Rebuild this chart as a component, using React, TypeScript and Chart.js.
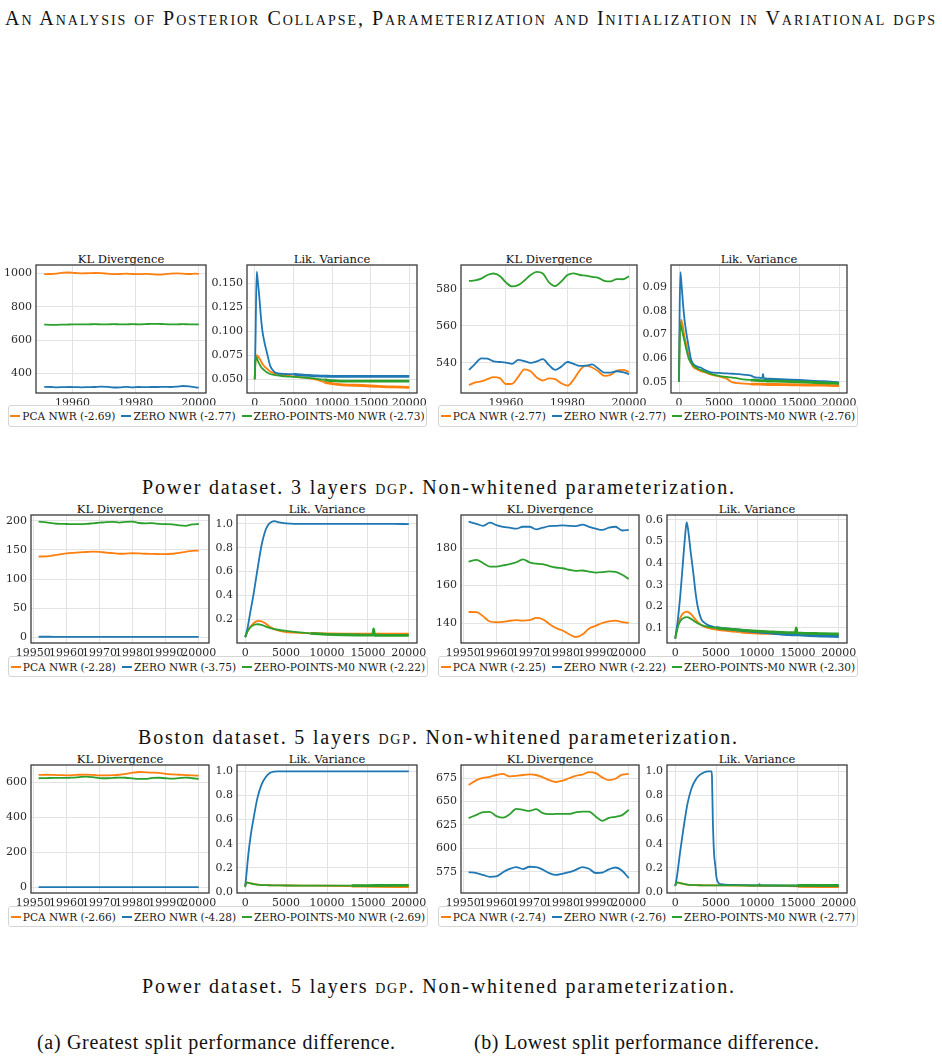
import React, { useEffect, useLayoutEffect, useRef } from "react";
import { Chart, registerables } from "chart.js";

Chart.register(...registerables);

// ---------- legend entries ----------
const seriesNames = ["PCA NWR", "ZERO NWR", "ZERO-POINTS-M0 NWR"];
const seriesColors = ["#ff7f0e", "#1f77b4", "#2ca02c"];

// ---------- shared steps / ticks ----------
const lvTicksX = [0, 5000, 10000, 15000, 20000];
const klTicksX20 = [19960, 19980, 20000];
const klTicksX10 = [19950, 19960, 19970, 19980, 19990, 20000];
const klSteps = [19951.6, 19954, 19956, 19958, 19960, 19962, 19964, 19966, 19968, 19970, 19972, 19974, 19976, 19978, 19980, 19982, 19984, 19986, 19988, 19990, 19992, 19994, 19996, 19998, 20000];

// ---------- Power, 3 layers, greatest split difference ----------
const scoresA = ["-2.69", "-2.77", "-2.73"];
const klStepsA = [19951, 19953, 19955, 19957, 19959, 19961, 19963, 19965, 19967, 19969, 19971, 19973, 19975, 19977, 19979, 19981, 19983, 19985, 19987, 19989, 19991, 19993, 19995, 19997, 19999, 20000];
const klPcaA = [995, 996, 999, 1004, 1005, 1002, 1000, 1001, 1002, 1001, 998, 995, 996, 998, 996, 995, 997, 996, 992, 994, 999, 1000, 998, 996, 998, 997];
const klZeroA = [321, 320, 318, 319, 320, 319, 318, 319, 320, 322, 321, 317, 318, 321, 318, 320, 319, 320, 320, 321, 320, 322, 326, 324, 318, 316];
const klZpA = [693, 692, 692, 693, 694, 695, 695, 695, 696, 695, 695, 696, 695, 695, 696, 695, 696, 698, 698, 696, 695, 695, 696, 695, 695, 694];
const lvStepsA = [0, 100, 250, 400, 600, 800, 1000, 1300, 1600, 2000, 2500, 3000, 4000, 5000, 6000, 7000, 8000, 9000, 10000, 11000, 12000, 14000, 16000, 18000, 20000];
const lvPcaA = [0.05, 0.068, 0.075, 0.074, 0.072, 0.069, 0.066, 0.063, 0.061, 0.058, 0.0565, 0.0555, 0.054, 0.053, 0.052, 0.051, 0.0495, 0.047, 0.0455, 0.0445, 0.044, 0.0435, 0.0425, 0.042, 0.0415];
const lvZeroA = [0.05, 0.09, 0.162, 0.152, 0.135, 0.115, 0.1, 0.087, 0.077, 0.064, 0.058, 0.056, 0.0555, 0.0553, 0.0545, 0.054, 0.0535, 0.0533, 0.053, 0.053, 0.053, 0.053, 0.053, 0.053, 0.053];
const lvZpA = [0.05, 0.07, 0.073, 0.069, 0.066, 0.063, 0.061, 0.059, 0.057, 0.0555, 0.0545, 0.054, 0.053, 0.0525, 0.052, 0.0515, 0.0505, 0.0495, 0.0485, 0.048, 0.048, 0.048, 0.048, 0.048, 0.048];

// ---------- Power, 3 layers, lowest split difference ----------
const scoresB = ["-2.77", "-2.77", "-2.76"];
const klStepsB = [19948, 19950, 19952, 19954, 19956, 19958, 19960, 19962, 19964, 19966, 19968, 19970, 19972, 19974, 19976, 19978, 19980, 19982, 19984, 19986, 19988, 19990, 19992, 19994, 19996, 19998, 20000];
const klPcaB = [528, 529.5, 530, 531.2, 532.3, 531.8, 528.6, 528.7, 532.5, 536.5, 535.5, 532.2, 530.5, 531.6, 531.2, 529, 527.7, 531, 536, 538.5, 537.5, 535.5, 533, 533.5, 535.8, 536.2, 535.2];
const klZeroB = [536.2, 539.5, 542.5, 542.3, 540.8, 540.5, 540.2, 539.5, 541.6, 541, 540, 540.8, 542, 538.8, 536.2, 538, 540.5, 539.5, 538.4, 538.5, 539.2, 537, 534.8, 534.8, 535.5, 535, 534];
const klZpB = [584.3, 584.6, 585.5, 587.5, 588.3, 587, 583.5, 581.3, 582, 584.5, 587.5, 589.2, 588.3, 583.5, 581.5, 584, 587.5, 588.4, 587.5, 587.2, 586.5, 586, 584.3, 584, 585.3, 585.2, 586.8];
const lvStepsB = [0, 80, 170, 300, 500, 700, 900, 1200, 1500, 1800, 2200, 2700, 3200, 4000, 5000, 6000, 6500, 7000, 8000, 9000, 9500, 10000, 10400, 10500, 10600, 11000, 12000, 14000, 16000, 18000, 20000];
const lvPcaB = [0.05, 0.07, 0.074, 0.0762, 0.073, 0.069, 0.066, 0.061, 0.058, 0.0562, 0.0553, 0.0545, 0.054, 0.053, 0.0522, 0.0512, 0.05, 0.0495, 0.0492, 0.049, 0.049, 0.049, 0.0489, 0.0489, 0.0489, 0.0488, 0.0488, 0.0487, 0.0486, 0.0485, 0.0483];
const lvZeroB = [0.05, 0.08, 0.0965, 0.092, 0.083, 0.076, 0.071, 0.065, 0.0595, 0.0575, 0.0565, 0.056, 0.055, 0.054, 0.0537, 0.0535, 0.0534, 0.0533, 0.053, 0.0526, 0.0518, 0.0517, 0.0515, 0.0533, 0.0514, 0.0511, 0.051, 0.0507, 0.0503, 0.05, 0.0495];
const lvZpB = [0.05, 0.066, 0.0747, 0.073, 0.07, 0.067, 0.064, 0.06, 0.058, 0.0568, 0.0558, 0.055, 0.0543, 0.0533, 0.0525, 0.052, 0.0518, 0.0516, 0.051, 0.0507, 0.0506, 0.0505, 0.0504, 0.0504, 0.0504, 0.0503, 0.0502, 0.05, 0.0498, 0.0495, 0.0493];

// ---------- Boston, 5 layers, greatest split difference ----------
const scoresC = ["-2.28", "-3.75", "-2.22"];
const klPcaC = [138.7, 139, 140.5, 142.5, 144, 145, 145.8, 146.5, 147.3, 146.8, 145.5, 144.5, 143.5, 143.8, 144.4, 144, 143.5, 143.3, 143, 142.7, 143.5, 145.2, 146.8, 148.5, 148.8];
const klZeroC = [0.5, 0.5, 0.4, 0.4, 0.4, 0.4, 0.4, 0.4, 0.4, 0.4, 0.4, 0.4, 0.4, 0.4, 0.4, 0.4, 0.4, 0.4, 0.4, 0.4, 0.4, 0.4, 0.4, 0.4, 0.4];
const klZpC = [198.9, 197.5, 196, 195, 194.8, 194.5, 194.5, 195, 196, 197, 198, 198.5, 197.2, 198.5, 198.8, 196.5, 196, 196.3, 195, 194.5, 194.3, 192.5, 191.5, 194, 194.8];
const lvStepsC = [0, 300, 600, 1000, 1300, 1600, 2000, 2400, 2800, 3200, 3600, 4000, 5000, 6000, 7000, 8000, 10000, 12000, 14000, 15600, 15700, 15800, 16000, 18000, 20000];
const lvPcaC = [0.05, 0.1, 0.135, 0.165, 0.18, 0.187, 0.183, 0.168, 0.148, 0.13, 0.115, 0.106, 0.093, 0.088, 0.085, 0.082, 0.078, 0.076, 0.075, 0.075, 0.075, 0.075, 0.075, 0.075, 0.075];
const lvZeroC = [0.05, 0.13, 0.25, 0.4, 0.53, 0.66, 0.82, 0.93, 0.99, 1.015, 1.022, 1.015, 1.004, 1.0, 1.0, 1.0, 0.999, 0.999, 0.999, 0.999, 0.999, 0.999, 0.999, 0.999, 0.998];
const lvZpC = [0.05, 0.1, 0.13, 0.15, 0.157, 0.158, 0.152, 0.142, 0.132, 0.123, 0.117, 0.112, 0.103, 0.095, 0.088, 0.082, 0.074, 0.07, 0.068, 0.067, 0.12, 0.066, 0.066, 0.065, 0.065];

// ---------- Boston, 5 layers, lowest split difference ----------
const scoresD = ["-2.25", "-2.22", "-2.30"];
const klPcaD = [145.9, 145.8, 143.6, 140.8, 140.4, 140.6, 141.2, 141.5, 141.3, 141.5, 142.7, 142, 139.5, 137.3, 136, 134, 132.5, 133.8, 137, 138.5, 140, 140.9, 141.3, 140.5, 140];
const klZeroD = [194.2, 193, 192, 193.7, 192.4, 191.5, 191, 190.5, 191.5, 191.5, 190.1, 191, 191.8, 192, 192.3, 192, 191.8, 192.6, 191.5, 190.5, 189.8, 191, 191.5, 189.5, 189.8];
const klZpD = [172.9, 173.8, 172, 170.2, 170.2, 170.8, 171.5, 172.5, 174.1, 172.5, 171.8, 171.5, 170.5, 169.7, 169.3, 168.5, 167.9, 168.1, 167.5, 167, 167.2, 167.6, 167.3, 165.8, 163.5];
const lvStepsD = [0, 300, 600, 900, 1200, 1400, 1600, 1900, 2200, 2500, 2800, 3200, 3600, 4000, 5000, 6000, 7000, 8000, 10000, 12000, 14700, 14800, 14900, 16000, 18000, 20000];
const lvPcaD = [0.05, 0.11, 0.145, 0.165, 0.173, 0.175, 0.173, 0.165, 0.152, 0.138, 0.125, 0.113, 0.105, 0.1, 0.092, 0.087, 0.083, 0.08, 0.076, 0.074, 0.072, 0.072, 0.072, 0.071, 0.07, 0.07];
const lvZeroD = [0.05, 0.13, 0.24, 0.38, 0.52, 0.59, 0.55, 0.45, 0.36, 0.26, 0.19, 0.14, 0.123, 0.113, 0.102, 0.097, 0.093, 0.089, 0.082, 0.075, 0.068, 0.068, 0.068, 0.065, 0.062, 0.06];
const lvZpD = [0.05, 0.1, 0.13, 0.143, 0.149, 0.15, 0.149, 0.143, 0.135, 0.127, 0.12, 0.113, 0.108, 0.105, 0.1, 0.096, 0.093, 0.09, 0.085, 0.081, 0.078, 0.1, 0.077, 0.075, 0.073, 0.072];

// ---------- Power, 5 layers, greatest split difference ----------
const scoresE = ["-2.66", "-4.28", "-2.69"];
const klPcaE = [644, 645, 644, 643, 642, 643, 645, 646, 644, 642, 642, 643, 645, 650, 657, 661, 659, 657, 656, 650, 647, 645, 643, 641, 640];
const klZeroE = [0.5, 0.5, 0.5, 0.5, 0.5, 0.5, 0.5, 0.5, 0.5, 0.5, 0.5, 0.5, 0.5, 0.5, 0.5, 0.5, 0.5, 0.5, 0.5, 0.5, 0.5, 0.5, 0.5, 0.5, 0.5];
const klZpE = [625, 626, 627, 627, 627, 629, 632, 634, 631, 626, 625, 627, 629, 628, 624, 621, 621, 627, 628, 625, 623, 626, 629, 625, 621];
const lvStepsE = [0, 100, 200, 400, 700, 1000, 1500, 2000, 2500, 3000, 3500, 4000, 5000, 7000, 10000, 13000, 16000, 20000];
const lvPcaE = [0.05, 0.075, 0.08, 0.078, 0.072, 0.067, 0.062, 0.059, 0.057, 0.056, 0.0555, 0.055, 0.054, 0.053, 0.052, 0.05, 0.047, 0.045];
const lvZeroE = [0.05, 0.11, 0.18, 0.32, 0.48, 0.6, 0.78, 0.89, 0.95, 0.985, 0.998, 1.0, 1.0, 1.0, 1.0, 1.0, 1.0, 1.0];
const lvZpE = [0.04, 0.07, 0.078, 0.076, 0.071, 0.066, 0.061, 0.058, 0.057, 0.056, 0.0555, 0.055, 0.054, 0.053, 0.053, 0.053, 0.054, 0.055];

// ---------- Power, 5 layers, lowest split difference ----------
const scoresF = ["-2.74", "-2.76", "-2.77"];
const klPcaF = [667.9, 673, 675.3, 676.5, 678.5, 679.6, 677, 677.5, 678.5, 679.1, 678.5, 676.1, 673, 671, 672.5, 675, 677.5, 679, 681.5, 680.5, 676, 673, 674.5, 679, 679.6];
const klZeroF = [574.6, 573.5, 571.5, 569.5, 570, 574.5, 578, 580, 577.8, 580.3, 580, 577.2, 573.5, 571.5, 572.9, 574.5, 577, 580, 578.2, 573.6, 574, 577.5, 579.5, 576, 568.2];
const klZpF = [632.3, 635.9, 638.8, 639.1, 634.5, 632.8, 636.5, 642.3, 641.2, 640.1, 641.9, 637.6, 636.6, 636.8, 636.9, 636.9, 638.5, 639.4, 639.4, 634.1, 629.4, 632.5, 633.8, 635.5, 641.2];
const lvStepsF = [0, 150, 300, 600, 1000, 1500, 2000, 2500, 3000, 3500, 4000, 4450, 4500, 4600, 4750, 4900, 5050, 5300, 5600, 6000, 8000, 10000, 10250, 10300, 10350, 12000, 15000, 18000, 20000];
const lvPcaF = [0.05, 0.08, 0.08, 0.075, 0.068, 0.062, 0.059, 0.057, 0.056, 0.0555, 0.0553, 0.0552, 0.0552, 0.0551, 0.0551, 0.055, 0.055, 0.055, 0.0548, 0.0546, 0.0535, 0.052, 0.052, 0.052, 0.052, 0.0505, 0.048, 0.046, 0.045];
const lvZeroF = [0.05, 0.1, 0.17, 0.33, 0.52, 0.73, 0.86, 0.93, 0.97, 0.99, 1.0, 1.0, 0.95, 0.6, 0.32, 0.22, 0.12, 0.075, 0.065, 0.062, 0.058, 0.055, 0.055, 0.066, 0.055, 0.054, 0.052, 0.051, 0.05];
const lvZpF = [0.05, 0.078, 0.078, 0.074, 0.068, 0.062, 0.059, 0.057, 0.056, 0.0555, 0.0553, 0.0552, 0.0552, 0.0551, 0.0551, 0.055, 0.055, 0.055, 0.0548, 0.0546, 0.0545, 0.054, 0.054, 0.054, 0.054, 0.054, 0.054, 0.0545, 0.055];

// ---------- page text ----------
const headerText = "An Analysis of Posterior Collapse, Parameterization and Initialization in Variational dgps";
const rowCaptions = [
  ["Power dataset. 3 layers ", "dgp", ". Non-whitened parameterization."],
  ["Boston dataset. 5 layers ", "dgp", ". Non-whitened parameterization."],
  ["Power dataset. 5 layers ", "dgp", ". Non-whitened parameterization."],
];
const subCaptions = ["(a) Greatest split performance difference.", "(b) Lowest split performance difference."];

// ---------- styling ----------
const PLOT_FONT = '"DejaVu Serif", serif';
const TEXT_FONT = '"Liberation Serif", "DejaVu Serif", serif';
const GRID = "#e3e3e3";
const FRAME = "#3a3a3a";
const TICK = "#2a2a2a";
const AXIS_W = 50;
const AXIS_H = 24;
const PAD_T = 10;
const PAD_R = 26;
const THIN = 1.8;
const WIDE = 2.8; // width used where a training curve jitters densely

type Box = [number, number, number, number];

type PanelSpec = {
  title: string;
  xs: number[];
  ys: number[][];
  xRange: [number, number];
  yRange: [number, number];
  xTicks: number[];
  yTicks: number[];
  yDecimals: number;
  box: Box;
  jitterFrom?: (number | null)[]; // per series: step after which the curve is drawn wider
};

type GroupSpec = {
  kl: PanelSpec;
  lv: PanelSpec;
  scores: string[];
  legendBox: Box;
};

const framePlugin = {
  id: "frame",
  afterDraw(chart: any) {
    const { ctx, chartArea: a } = chart;
    ctx.save();
    ctx.strokeStyle = FRAME;
    ctx.lineWidth = 1.3;
    ctx.strokeRect(a.left, a.top, a.right - a.left, a.bottom - a.top);
    ctx.restore();
  },
};

function Panel({ spec }: { spec: PanelSpec }) {
  const ref = useRef<HTMLCanvasElement>(null);
  const [l, t, r, b] = spec.box;
  const w = r - l + AXIS_W + PAD_R;
  const h = b - t + PAD_T + AXIS_H;

  useEffect(() => {
    const tickFont = { family: PLOT_FONT, size: 11 };
    const chart = new Chart(ref.current as HTMLCanvasElement, {
      type: "line",
      data: {
        datasets: spec.ys.map((ys, i) => {
          const from = spec.jitterFrom ? spec.jitterFrom[i] : null;
          return {
            label: seriesNames[i],
            data: spec.xs.map((x, k) => ({ x, y: ys[k] })),
            borderColor: seriesColors[i],
            backgroundColor: seriesColors[i],
            borderWidth: THIN,
            pointRadius: 0,
            fill: false,
            cubicInterpolationMode: "monotone" as const,
            order: 3 - i,
            segment:
              from === null || from === undefined
                ? undefined
                : { borderWidth: (c: any) => (c.p0.parsed.x >= from ? WIDE : THIN) },
          };
        }),
      },
      options: {
        responsive: false,
        animation: false,
        devicePixelRatio: 1,
        events: [],
        layout: { padding: { left: 0, top: PAD_T, right: PAD_R, bottom: 0 } },
        plugins: {
          legend: { display: false },
          title: { display: false },
          tooltip: { enabled: false },
        },
        scales: {
          x: {
            type: "linear",
            min: spec.xRange[0],
            max: spec.xRange[1],
            afterBuildTicks: (s: any) => {
              s.ticks = spec.xTicks.map((v) => ({ value: v }));
            },
            afterFit: (s: any) => {
              s.height = AXIS_H;
              s.paddingLeft = 0;
              s.paddingRight = 0;
            },
            grid: { color: GRID, lineWidth: 1, drawTicks: false },
            border: { display: false },
            ticks: {
              padding: 4,
              color: TICK,
              font: tickFont,
              maxRotation: 0,
              autoSkip: false,
              callback: (v: any) => Number(v).toFixed(0),
            },
          },
          y: {
            type: "linear",
            min: spec.yRange[0],
            max: spec.yRange[1],
            afterBuildTicks: (s: any) => {
              s.ticks = spec.yTicks.map((v) => ({ value: v }));
            },
            afterFit: (s: any) => {
              s.width = AXIS_W;
              s.paddingTop = 0;
              s.paddingBottom = 0;
            },
            grid: { color: GRID, lineWidth: 1, drawTicks: false },
            border: { display: false },
            ticks: {
              padding: 4,
              color: TICK,
              font: tickFont,
              autoSkip: false,
              callback: (v: any) => Number(v).toFixed(spec.yDecimals),
            },
          },
        },
      },
      plugins: [framePlugin],
    } as any);
    return () => chart.destroy();
  }, [spec]);

  return (
    <>
      <div
        style={{
          position: "absolute",
          left: l,
          top: t - 13,
          width: r - l,
          textAlign: "center",
          fontFamily: PLOT_FONT,
          fontSize: 11.5,
          lineHeight: "14px",
          color: "#111",
          whiteSpace: "nowrap",
        }}
      >
        {spec.title}
      </div>
      <canvas
        ref={ref}
        width={w}
        height={h}
        style={{ position: "absolute", left: l - AXIS_W, top: t - PAD_T, width: w, height: h }}
      />
    </>
  );
}

function Legend({ box, scores }: { box: Box; scores: string[] }) {
  const [l, t, r, b] = box;
  return (
    <div
      style={{
        position: "absolute",
        left: l,
        top: t,
        width: r - l,
        height: b - t,
        boxSizing: "border-box",
        border: "1px solid #d5d5d5",
        borderRadius: 3,
        display: "flex",
        alignItems: "center",
        justifyContent: "center",
        fontFamily: PLOT_FONT,
        fontSize: 10.6,
        color: "#1a1a1a",
        whiteSpace: "nowrap",
        background: "#fff",
      }}
    >
      {seriesNames.map((name, i) => (
        <span key={name} style={{ display: "inline-flex", alignItems: "center", marginRight: i < 2 ? 6 : 0 }}>
          <span style={{ display: "inline-block", width: 10, height: 2, background: seriesColors[i], marginRight: 2 }} />
          {`${name} (${scores[i]})`}
        </span>
      ))}
    </div>
  );
}

// Spreads the glyphs of a line of text so that it spans the given width.
function SpreadText({
  left,
  top,
  width,
  size,
  smallCaps,
  children,
}: {
  left: number;
  top: number;
  width: number;
  size: number;
  smallCaps?: boolean;
  children: React.ReactNode;
}) {
  const ref = useRef<HTMLSpanElement>(null);
  useLayoutEffect(() => {
    const el = ref.current;
    if (!el) return;
    el.style.letterSpacing = "0px";
    const natural = el.getBoundingClientRect().width;
    const n = Math.max(1, (el.textContent || "").length - 1);
    el.style.letterSpacing = `${(width - natural) / n}px`;
  }, [width]);
  return (
    <span
      ref={ref}
      style={{
        position: "absolute",
        left,
        top,
        display: "inline-block",
        whiteSpace: "nowrap",
        fontFamily: TEXT_FONT,
        fontSize: size,
        lineHeight: "20px",
        fontVariant: smallCaps ? "small-caps" : "normal",
        color: "#111",
      }}
    >
      {children}
    </span>
  );
}

function klPanel(xs: number[], ys: number[][], xRange: [number, number], yRange: [number, number], xTicks: number[], yTicks: number[], box: Box): PanelSpec {
  return { title: "KL Divergence", xs, ys, xRange, yRange, xTicks, yTicks, yDecimals: 0, box };
}

function lvPanel(xs: number[], ys: number[][], yRange: [number, number], yTicks: number[], yDecimals: number, box: Box, jitterFrom: (number | null)[]): PanelSpec {
  return { title: "Lik. Variance", xs, ys, xRange: [-1000, 21000], yRange, xTicks: lvTicksX, yTicks, yDecimals, box, jitterFrom };
}

const groups: GroupSpec[] = [
  {
    kl: klPanel(klStepsA, [klPcaA, klZeroA, klZpA], [19948.4, 20002.3], [284, 1050], klTicksX20, [400, 600, 800, 1000], [36, 265, 206, 393]),
    lv: lvPanel(lvStepsA, [lvPcaA, lvZeroA, lvZpA], [0.0357, 0.169], [0.05, 0.075, 0.1, 0.125, 0.15], 3, [247, 265, 417, 393], [9000, 5000, 9000]),
    scores: scoresA,
    legendBox: [8, 405, 427, 427],
  },
  {
    kl: klPanel(klStepsB, [klPcaB, klZeroB, klZpB], [19945.4, 20002.6], [523.75, 592.9], klTicksX20, [540, 560, 580], [461, 265, 637, 393]),
    lv: lvPanel(lvStepsB, [lvPcaB, lvZeroB, lvZpB], [0.0452, 0.0995], [0.05, 0.06, 0.07, 0.08, 0.09], 2, [671, 265, 847, 393], [9000, 10600, 9000]),
    scores: scoresB,
    legendBox: [438, 405, 858, 427],
  },
  {
    kl: klPanel(klSteps, [klPcaC, klZeroC, klZpC], [19949.3, 20003.1], [-10.3, 210.3], klTicksX10, [0, 50, 100, 150, 200], [31, 515, 209, 643]),
    lv: lvPanel(lvStepsC, [lvPcaC, lvZeroC, lvZpC], [0.001, 1.074], [0.2, 0.4, 0.6, 0.8, 1.0], 1, [237, 515, 417, 643], [8000, null, 8000]),
    scores: scoresC,
    legendBox: [8, 656, 428, 677],
  },
  {
    kl: klPanel(klSteps, [klPcaD, klZeroD, klZpD], [19949.3, 20003.1], [129.3, 197.8], klTicksX10, [140, 160, 180], [461, 515, 639, 643]),
    lv: lvPanel(lvStepsD, [lvPcaD, lvZeroD, lvZpD], [0.03, 0.623], [0.1, 0.2, 0.3, 0.4, 0.5, 0.6], 1, [667, 515, 847, 643], [8000, 5000, 5000]),
    scores: scoresD,
    legendBox: [438, 656, 858, 677],
  },
  {
    kl: klPanel(klSteps, [klPcaE, klZeroE, klZpE], [19949.3, 20003.1], [-33, 701], klTicksX10, [0, 200, 400, 600], [31, 765, 209, 893]),
    lv: lvPanel(lvStepsE, [lvPcaE, lvZeroE, lvZpE], [-0.008, 1.052], [0, 0.2, 0.4, 0.6, 0.8, 1.0], 1, [237, 765, 417, 893], [13000, null, 13000]),
    scores: scoresE,
    legendBox: [8, 906, 428, 927],
  },
  {
    kl: klPanel(klSteps, [klPcaF, klZeroF, klZpF], [19949.3, 20003.1], [552.2, 689.2], klTicksX10, [575, 600, 625, 650, 675], [461, 765, 639, 893]),
    lv: lvPanel(lvStepsF, [lvPcaF, lvZeroF, lvZpF], [-0.008, 1.052], [0, 0.2, 0.4, 0.6, 0.8, 1.0], 1, [667, 765, 847, 893], [13000, null, 13000]),
    scores: scoresF,
    legendBox: [438, 906, 858, 927],
  },
];

const captionSpans: [number, number, number][] = [
  [142, 477, 592],
  [138, 727, 599],
  [142, 976, 592],
];

export default function App() {
  return (
    <div style={{ position: "absolute", left: 0, top: 0, width: 942, height: 1060, background: "#fff", overflow: "hidden" }}>
      <SpreadText left={5} top={8} width={930} size={20} smallCaps>
        {headerText}
      </SpreadText>

      {groups.map((g, i) => (
        <React.Fragment key={i}>
          <Panel spec={g.kl} />
          <Panel spec={g.lv} />
          <Legend box={g.legendBox} scores={g.scores} />
        </React.Fragment>
      ))}

      {rowCaptions.map((c, i) => (
        <SpreadText key={i} left={captionSpans[i][0]} top={captionSpans[i][1]} width={captionSpans[i][2]} size={20}>
          {c[0]}
          <span style={{ fontVariant: "small-caps" }}>{c[1]}</span>
          {c[2]}
        </SpreadText>
      ))}

      <SpreadText left={37} top={1032} width={358} size={20}>
        {subCaptions[0]}
      </SpreadText>
      <SpreadText left={474} top={1032} width={345} size={20}>
        {subCaptions[1]}
      </SpreadText>
    </div>
  );
}
